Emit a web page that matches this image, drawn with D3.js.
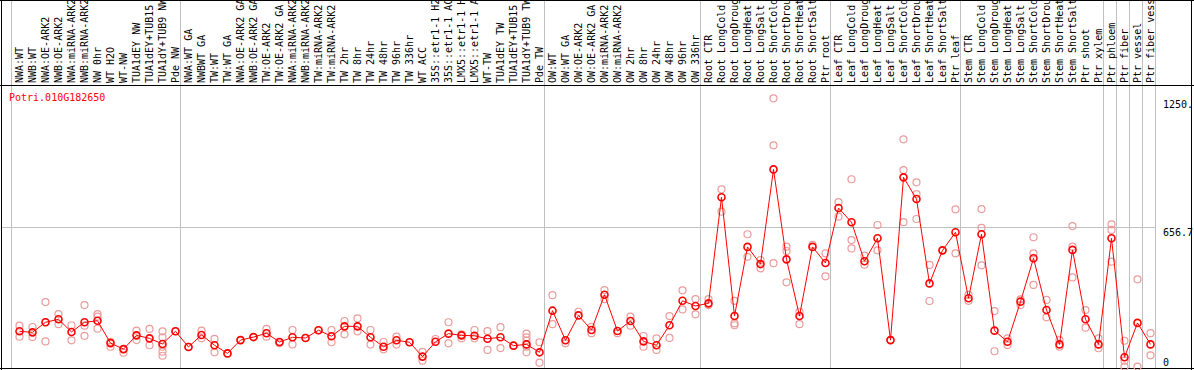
<!DOCTYPE html>
<html lang="en">
<head>
  <meta charset="UTF-8">
  <title>Potri.010G182650 expression profile</title>
  <script src="https://d3js.org/d3.v7.min.js"></script>
  <style>
    body { margin: 0; background: #fff; }
    svg { display: block; }
    text { font-family: "DejaVu Sans Mono", monospace; font-size: 10px; }
  </style>
</head>
<body>
  <svg id="chart" width="1194" height="370"></svg>

  <script>
    // ---- data ----
    const geneName = "Potri.010G182650";

    const samples = [
      "NWA:WT", "NWB:WT", "NWA:OE-ARK2", "NWB:OE-ARK2", "NWA:miRNA-ARK2", "NWB:miRNA-ARK2",
      "NW 0hr", "WT H2O", "WT-NW", "TUA1dEY NW", "TUA1dEY+TUB15 NW", "TUA1dY+TUB9 NW", "Pde NW",
      "NWA:WT GA", "NWBWT GA", "TW:WT", "TW:WT GA", "NWA:OE-ARK2 GA", "NWB:OE-ARK2 GA",
      "TW:OE-ARK2", "TW:OE-ARK2 GA", "NWA:miRNA-ARK2 GA", "NWB:miRNA-ARK2 GA", "TW:miRNA-ARK2",
      "TW:miRNA-ARK2 GA", "TW 2hr", "TW 8hr", "TW 24hr", "TW 48hr", "TW 96hr", "TW 336hr",
      "WT ACC", "35S::etr1-1 H2O", "35S::etr1-1 ACC", "LMX5::etr1-1 H2O", "LMX5::etr1-1 ACC",
      "WT-TW", "TUA1dEY TW", "TUA1dEY+TUB15 TW", "TUA1dY+TUB9 TW", "Pde TW",
      "OW:WT", "OW:WT GA", "OW:OE-ARK2", "OW:OE-ARK2 GA", "OW:miRNA-ARK2", "OW:miRNA-ARK2 GA",
      "OW 2hr", "OW 8hr", "OW 24hr", "OW 48hr", "OW 96hr", "OW 336hr",
      "Root CTR", "Root LongCold", "Root LongDrought", "Root LongHeat", "Root LongSalt",
      "Root ShortCold", "Root ShortDrought", "Root ShortHeat", "Root ShortSalt", "Ptr root",
      "Leaf CTR", "Leaf LongCold", "Leaf LongDrought", "Leaf LongHeat", "Leaf LongSalt",
      "Leaf ShortCold", "Leaf ShortDrought", "Leaf ShortHeat", "Leaf ShortSalt", "Ptr leaf",
      "Stem CTR", "Stem LongCold", "Stem LongDrought", "Stem LongHeat", "Stem LongSalt",
      "Stem ShortCold", "Stem ShortDrought", "Stem ShortHeat", "Stem ShortSalt",
      "Ptr shoot", "Ptr xylem", "Ptr phloem", "Ptr fiber", "Ptr vessel", "Ptr fiber vessel"
    ];

    // sample indices where a group separator is drawn
    const groupBreaks = [0, 13, 41, 53, 63, 73, 84, 85, 86, 87, 88];

    // mean expression per sample
    const means = [
      171, 166, 213, 227, 168, 213, 220, 116, 88, 152, 138, 112, 171,
      98, 154, 106, 68, 130, 144, 162, 121, 143, 140, 176, 148, 194, 194, 143, 99, 129,
      120, 53, 122, 160, 152, 150, 136, 143, 104, 110, 73,
      267, 129, 245, 177, 341, 172, 219, 124, 106, 199, 313, 289,
      301, 795, 242, 564, 484, 925, 506, 242, 564, 489,
      745, 679, 497, 604, 130, 888, 787, 394, 548, 632,
      325, 623, 174, 122, 309, 511, 270, 110, 550, 227, 110,
      604, 50, 210, 110
    ];

    // individual replicates per sample
    const replicates = [
      [197, 146], [191, 144], [307, 124, 213], [251, 204], [199, 129], [293, 197, 150],
      [251, 239, 183], [122, 99], [71, 88], [174, 130], [182, 106], [171, 143, 99, 76, 57], [171],
      [98], [174, 138], [136, 73], [68], [130], [144], [182, 146], [121, 115], [177, 110],
      [140], [176], [177, 120], [219, 157], [231, 171], [177, 109], [121, 87], [146, 109],
      [120], [75, 34], [135], [213, 115], [157, 138], [177, 138], [172, 84], [190, 93],
      [104], [160, 143, 127, 99, 73], [120, 25],
      [339, 204], [115], [262], [192, 162], [363, 320], [162], [239, 197], [149, 99],
      [138, 84], [242, 140], [362, 273], [321, 250],
      [321, 293], [832, 728], [313, 208, 199], [623, 518], [503, 464], [1256, 1037, 488],
      [565, 545, 399], [262, 204], [573], [534, 427],
      [773, 705], [879, 596, 557], [523, 481], [666, 548], [130], [1065, 922, 679],
      [865, 810, 694], [480, 312], [548], [739, 534],
      [341, 313], [740, 653, 478], [265, 78], [138, 107], [320, 293], [609, 534, 387],
      [317, 236], [130, 99], [661, 565, 422], [270, 188], [138, 92],
      [669, 643, 495], [127, 34, 6], [413, 6], [162, 59]
    ];

    const yTicks = [0, 656.7, 1250];
    const yMax = 1313.4;

    // ---- layout ----
    const svg = d3.select("#chart");
    const W = 1194, H = 370;
    const labelBottom = 85.5, plotBottom = 368.5;

    const x = d3.scaleBand()
                .domain(d3.range(samples.length))
                .range([11, 11 + 13 * samples.length]);
    const px = i => x(i) + 8.5;

    const y = d3.scaleLinear()
                .domain([0, yMax])
                .range([368, 86]);

    // group separators (run through label area too)
    svg.append("g")
       .selectAll("line")
       .data(groupBreaks)
       .enter()
       .append("line")
       .attr("x1", d => (d < samples.length ? x(d) : x(d - 1) + x.bandwidth()) + 0.5)
       .attr("x2", d => (d < samples.length ? x(d) : x(d - 1) + x.bandwidth()) + 0.5)
       .attr("y1", 0)
       .attr("y2", plotBottom)
       .attr("stroke", "#c0c0c0")
       .attr("stroke-width", 1);

    // horizontal grid line at the middle tick
    svg.append("line")
       .attr("x1", 1).attr("x2", x.range()[1])
       .attr("y1", Math.round(y(656.7)) + 0.5)
       .attr("y2", Math.round(y(656.7)) + 0.5)
       .attr("stroke", "#c0c0c0");

    // frame
    const frame = svg.append("g").attr("stroke", "#000").attr("stroke-width", 1);
    frame.append("line").attr("x1", 0).attr("x2", W).attr("y1", 0.5).attr("y2", 0.5);
    frame.append("line").attr("x1", 0).attr("x2", W).attr("y1", labelBottom).attr("y2", labelBottom);
    frame.append("line").attr("x1", 0).attr("x2", W).attr("y1", plotBottom).attr("y2", plotBottom);
    frame.append("line").attr("x1", 1.5).attr("x2", 1.5).attr("y1", 0).attr("y2", H);
    frame.append("line").attr("x1", 1191.5).attr("x2", 1191.5).attr("y1", 0).attr("y2", H);

    // sample labels, rotated
    svg.append("g")
       .selectAll("text")
       .data(samples)
       .enter()
       .append("text")
       .attr("transform", (d, i) => `translate(${px(i) + 3.5},83) rotate(-90)`)
       .attr("fill", "#000")
       .text(d => d);

    // right side value labels
    svg.append("g")
       .selectAll("text")
       .data(yTicks)
       .enter()
       .append("text")
       .attr("x", 1163)
       .attr("y", d => Math.min(y(d) + 8.5, 365.5))
       .attr("fill", "#000")
       .text(d => d === 1250 ? "1250." : d === 0 ? "0" : d3.format(".1f")(d));

    // gene name
    svg.append("text")
       .attr("x", 9)
       .attr("y", 100.5)
       .attr("fill", "#ff0000")
       .text(geneName);

    // replicates
    const repPoints = [];
    replicates.forEach((reps, i) => reps.forEach(v => repPoints.push({i, v})));
    svg.append("g")
       .selectAll("circle")
       .data(repPoints)
       .enter()
       .append("circle")
       .attr("cx", d => px(d.i))
       .attr("cy", d => y(d.v))
       .attr("r", 3.5)
       .attr("fill", "none")
       .attr("stroke", "#eb9c9c")
       .attr("stroke-width", 1.2);

    // mean line
    const line = d3.line()
                   .x((d, i) => px(i))
                   .y(d => y(d));
    svg.append("path")
       .datum(means)
       .attr("fill", "none")
       .attr("stroke", "#ff0000")
       .attr("stroke-width", 1)
       .attr("d", line);

    // mean markers
    svg.append("g")
       .selectAll("circle")
       .data(means)
       .enter()
       .append("circle")
       .attr("cx", (d, i) => px(i))
       .attr("cy", d => y(d))
       .attr("r", 3.5)
       .attr("fill", "none")
       .attr("stroke", "#ff0000")
       .attr("stroke-width", 1.6);
  </script>
</body>
</html>
